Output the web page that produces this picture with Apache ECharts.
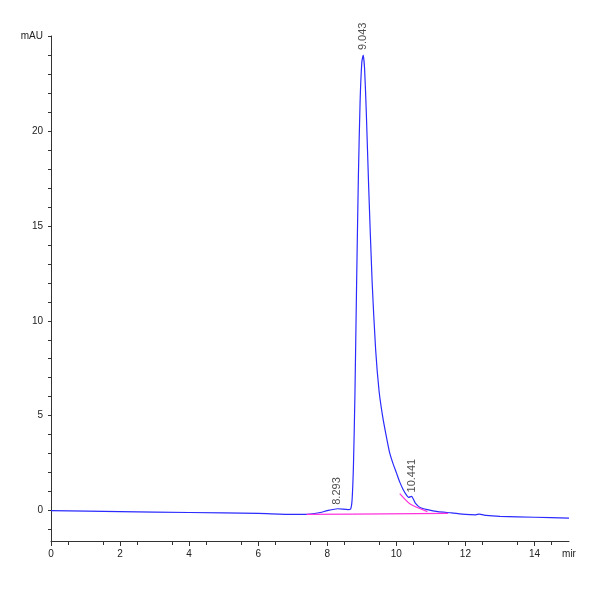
<!DOCTYPE html>
<html>
<head>
<meta charset="utf-8">
<script src="https://cdn.jsdelivr.net/npm/echarts@6/dist/echarts.min.js"></script>
<style>html,body{margin:0;padding:0;background:#fff}#chart{width:600px;height:600px}</style>
</head>
<body>
<div id="chart"></div>
<script>
var times = [0, 2, 4, 6, 7, 7.5, 7.8, 8.0, 8.3, 8.6, 8.68, 8.72, 8.76, 8.8, 8.85, 8.9, 8.95, 9.0, 9.04, 9.08, 9.13, 9.2, 9.3, 9.4, 9.5, 9.6, 9.7, 9.8, 9.9, 10.0, 10.1, 10.2, 10.3, 10.35, 10.44, 10.55, 10.7, 10.9, 11.2, 11.6, 12.0, 12.3, 12.4, 12.6, 13, 14, 15];
var signal = [0.0, -0.05, -0.1, -0.15, -0.2, -0.18, -0.1, 0.0, 0.1, 0.05, 0.1, 0.6, 2.5, 6, 12, 17.5, 21.5, 23.6, 24, 23.3, 21, 17, 12, 8.5, 6.3, 5, 4, 3.1, 2.5, 2.0, 1.5, 1.1, 0.8, 0.7, 0.75, 0.4, 0.15, 0.05, -0.05, -0.12, -0.2, -0.22, -0.18, -0.25, -0.3, -0.35, -0.4];
var baseA = [[7.4, -0.2], [8.72, -0.18]];
var baseB = [[8.72, -0.18], [11.5, -0.15]];
var baseC = [[10.1, 0.9], [10.4, 0.35], [10.9, -0.05]];
var peakTimes = [8.293, 9.043, 10.441];
var peakHeights = [0.15, 24.1, 0.8];
var peakNames = ['8.293', '9.043', '10.441'];

var chart = echarts.init(document.getElementById('chart'));
var font = 'Liberation Sans';
var line = function(data, color) {
	return { type: 'line', data: data, symbol: 'none', silent: true, smooth: 0.2,
		lineStyle: { color: color, width: 1.2 } };
};
chart.setOption({
	animation: false,
	grid: { left: 51, right: 31, top: 36, bottom: 59 },
	xAxis: {
		type: 'value', min: 0, max: 15,
		axisLine: { onZero: false, lineStyle: { color: '#333' } },
		axisTick: { customValues: [0, 2, 4, 6, 8, 10, 12, 14], length: 5, lineStyle: { color: '#333' } },
		minorTick: { show: true, splitNumber: 2, length: 4, lineStyle: { color: '#333' } },
		interval: 1,
		axisLabel: { customValues: [0, 2, 4, 6, 8, 10, 12, 14, 15], fontFamily: font, fontSize: 10, color: '#222',
			formatter: function(v) { return v === 15 ? 'mir' : v; } },
		splitLine: { show: false }
	},
	yAxis: {
		type: 'value', min: -1.6, max: 25,
		axisLine: { show: true, lineStyle: { color: '#333' } },
		axisTick: { show: true, customValues: [-1, 0, 1, 2, 3, 4, 5, 6, 7, 8, 9, 10, 11, 12, 13, 14, 15, 16, 17, 18, 19, 20, 21, 22, 23, 24, 25], length: 3, lineStyle: { color: '#333' } },
		axisLabel: { customValues: [0, 5, 10, 15, 20, 25], fontFamily: font, fontSize: 10, color: '#222',
			formatter: function(v) { return v === 25 ? 'mAU' : v; } },
		splitLine: { show: false }
	},
	series: [
		line(times.map(function(t, i) { return [t, signal[i]]; }), '#2b2bff'),
		line(baseA, '#ff33dd'),
		line(baseB, '#ff33dd'),
		line(baseC, '#ff33dd'),
		{
			type: 'scatter', symbolSize: 0, silent: true,
			data: peakTimes.map(function(t, i) { return [t, peakHeights[i]]; }),
			label: {
				show: true, rotate: 90, position: 'top', align: 'left', verticalAlign: 'middle', distance: 3,
				fontFamily: font, fontSize: 11, color: '#222',
				formatter: function(p) { return peakNames[p.dataIndex]; }
			}
		}
	]
});
</script>
</body>
</html>
